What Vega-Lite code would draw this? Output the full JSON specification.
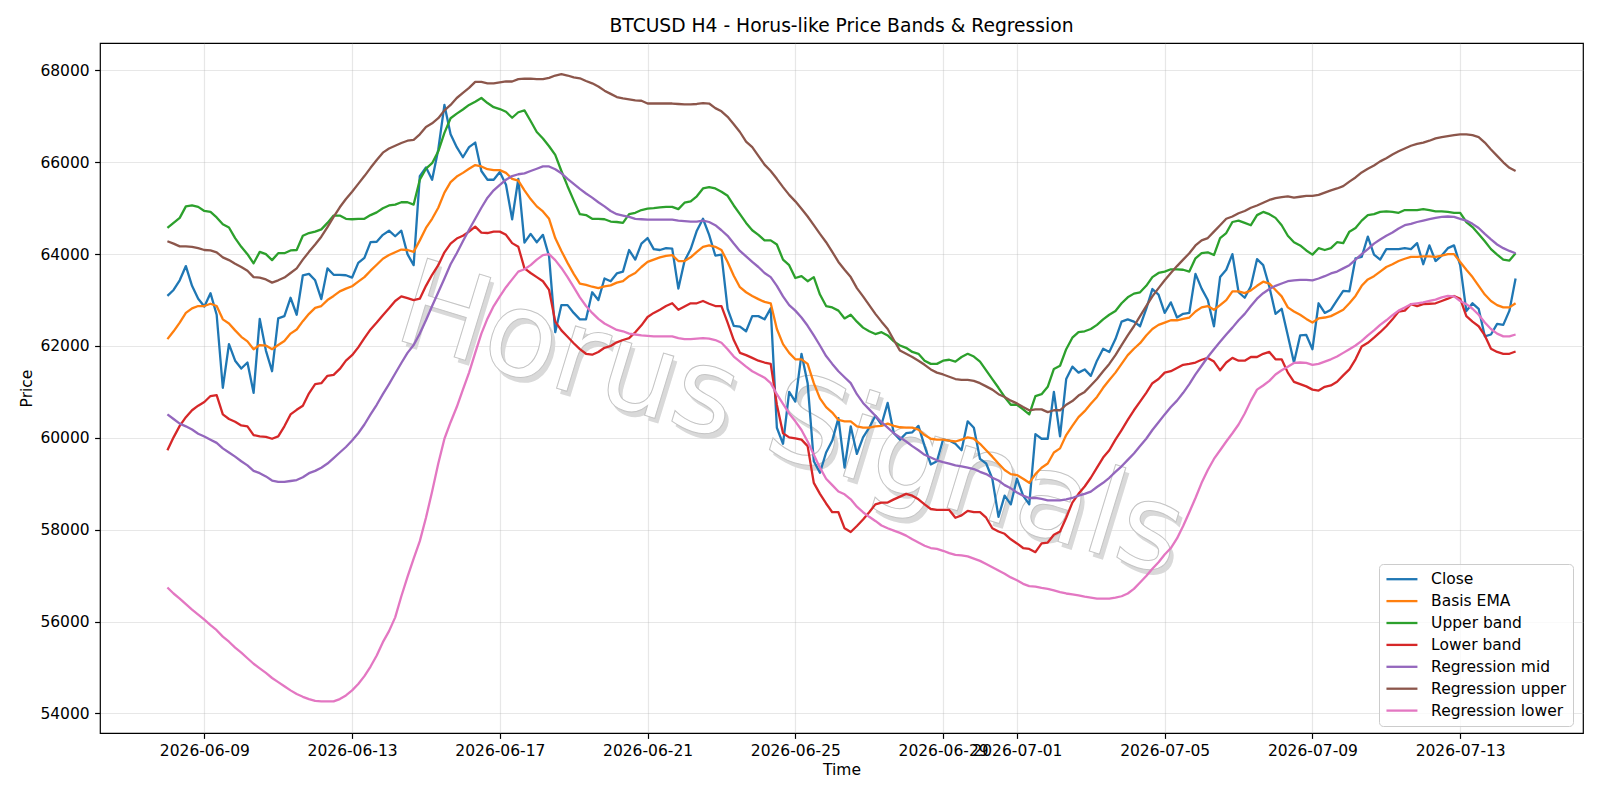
{
"$schema":"https://vega.github.io/schema/vega-lite/v6.json",
"width":1483,"height":690,
"autosize":{"type":"none"},
"padding":{"left":100,"top":43,"right":17,"bottom":67},
"background":"white",
"title":{"text":"BTCUSD H4 - Horus-like Price Bands & Regression","font":"DejaVu Sans","fontSize":18.7,"fontWeight":"normal","color":"black","anchor":"middle","baseline":"alphabetic","offset":-8},
"config":{
"font":"DejaVu Sans",
"view":{"stroke":"black","strokeWidth":1.2},
"axis":{"domain":false,"grid":true,"gridColor":"#b0b0b0","gridOpacity":0.3,"gridWidth":1.2,"tickColor":"black","tickWidth":1.2,"tickSize":5.4,"labelPadding":5.4,"labelFont":"DejaVu Sans","labelFontSize":15.5,"labelColor":"black","titleFont":"DejaVu Sans","titleFontSize":15.5,"titleFontWeight":"normal","titleColor":"black"}
},
"datasets":{"d":[
{"t":"2026-06-08T00:00","c":63090,"e":62150,"u":64570,"l":59730,"m":60510,"ru":64280,"rl":56740},
{"t":"2026-06-08T04:00","c":63220,"e":62320,"u":64680,"l":60010,"m":60410,"ru":64230,"rl":56610},
{"t":"2026-06-08T08:00","c":63430,"e":62510,"u":64790,"l":60260,"m":60310,"ru":64170,"rl":56500},
{"t":"2026-06-08T12:00","c":63740,"e":62720,"u":65040,"l":60450,"m":60250,"ru":64170,"rl":56380},
{"t":"2026-06-08T16:00","c":63310,"e":62820,"u":65060,"l":60600,"m":60180,"ru":64160,"rl":56260},
{"t":"2026-06-08T20:00","c":63030,"e":62870,"u":65030,"l":60700,"m":60090,"ru":64130,"rl":56150},
{"t":"2026-06-09T00:00","c":62860,"e":62870,"u":64940,"l":60780,"m":60030,"ru":64090,"rl":56040},
{"t":"2026-06-09T04:00","c":63150,"e":62920,"u":64920,"l":60910,"m":59960,"ru":64080,"rl":55920},
{"t":"2026-06-09T08:00","c":62680,"e":62870,"u":64800,"l":60930,"m":59890,"ru":64040,"rl":55810},
{"t":"2026-06-09T12:00","c":61090,"e":62580,"u":64650,"l":60510,"m":59770,"ru":63930,"rl":55670},
{"t":"2026-06-09T16:00","c":62040,"e":62490,"u":64580,"l":60410,"m":59680,"ru":63870,"rl":55560},
{"t":"2026-06-09T20:00","c":61680,"e":62340,"u":64350,"l":60350,"m":59590,"ru":63790,"rl":55430},
{"t":"2026-06-10T00:00","c":61510,"e":62200,"u":64160,"l":60270,"m":59490,"ru":63720,"rl":55320},
{"t":"2026-06-10T04:00","c":61640,"e":62100,"u":64000,"l":60250,"m":59400,"ru":63640,"rl":55200},
{"t":"2026-06-10T08:00","c":60980,"e":61930,"u":63800,"l":60060,"m":59280,"ru":63500,"rl":55080},
{"t":"2026-06-10T12:00","c":62590,"e":62020,"u":64050,"l":60030,"m":59230,"ru":63490,"rl":54980},
{"t":"2026-06-10T16:00","c":61900,"e":62010,"u":64000,"l":60020,"m":59160,"ru":63450,"rl":54880},
{"t":"2026-06-10T20:00","c":61450,"e":61930,"u":63870,"l":59980,"m":59070,"ru":63380,"rl":54770},
{"t":"2026-06-11T00:00","c":62600,"e":62020,"u":64020,"l":60030,"m":59040,"ru":63430,"rl":54680},
{"t":"2026-06-11T04:00","c":62650,"e":62110,"u":64020,"l":60250,"m":59040,"ru":63490,"rl":54590},
{"t":"2026-06-11T08:00","c":63050,"e":62270,"u":64080,"l":60510,"m":59060,"ru":63590,"rl":54500},
{"t":"2026-06-11T12:00","c":62680,"e":62360,"u":64090,"l":60610,"m":59080,"ru":63690,"rl":54420},
{"t":"2026-06-11T16:00","c":63540,"e":62540,"u":64400,"l":60700,"m":59140,"ru":63880,"rl":54360},
{"t":"2026-06-11T20:00","c":63570,"e":62700,"u":64460,"l":60970,"m":59230,"ru":64050,"rl":54310},
{"t":"2026-06-12T00:00","c":63430,"e":62830,"u":64490,"l":61170,"m":59280,"ru":64210,"rl":54270},
{"t":"2026-06-12T04:00","c":63020,"e":62870,"u":64540,"l":61190,"m":59350,"ru":64380,"rl":54260},
{"t":"2026-06-12T08:00","c":63690,"e":63000,"u":64680,"l":61350,"m":59440,"ru":64590,"rl":54260},
{"t":"2026-06-12T12:00","c":63550,"e":63090,"u":64840,"l":61370,"m":59560,"ru":64810,"rl":54260},
{"t":"2026-06-12T16:00","c":63550,"e":63190,"u":64840,"l":61500,"m":59680,"ru":65020,"rl":54310},
{"t":"2026-06-12T20:00","c":63540,"e":63250,"u":64770,"l":61680,"m":59800,"ru":65200,"rl":54390},
{"t":"2026-06-13T00:00","c":63490,"e":63300,"u":64760,"l":61800,"m":59940,"ru":65360,"rl":54500},
{"t":"2026-06-13T04:00","c":63810,"e":63400,"u":64770,"l":61970,"m":60100,"ru":65530,"rl":54640},
{"t":"2026-06-13T08:00","c":63920,"e":63500,"u":64770,"l":62170,"m":60290,"ru":65700,"rl":54810},
{"t":"2026-06-13T12:00","c":64260,"e":63640,"u":64850,"l":62360,"m":60510,"ru":65880,"rl":55020},
{"t":"2026-06-13T16:00","c":64270,"e":63770,"u":64910,"l":62510,"m":60720,"ru":66050,"rl":55260},
{"t":"2026-06-13T20:00","c":64420,"e":63900,"u":65000,"l":62670,"m":60950,"ru":66210,"rl":55550},
{"t":"2026-06-14T00:00","c":64510,"e":63980,"u":65060,"l":62820,"m":61170,"ru":66300,"rl":55790},
{"t":"2026-06-14T04:00","c":64390,"e":64040,"u":65080,"l":62980,"m":61400,"ru":66360,"rl":56090},
{"t":"2026-06-14T08:00","c":64510,"e":64100,"u":65130,"l":63080,"m":61630,"ru":66420,"rl":56550},
{"t":"2026-06-14T12:00","c":64000,"e":64090,"u":65130,"l":63040,"m":61850,"ru":66470,"rl":56970},
{"t":"2026-06-14T16:00","c":63760,"e":64050,"u":65080,"l":63000,"m":62020,"ru":66490,"rl":57370},
{"t":"2026-06-14T20:00","c":65700,"e":64300,"u":65620,"l":63030,"m":62270,"ru":66610,"rl":57750},
{"t":"2026-06-15T00:00","c":65890,"e":64570,"u":65860,"l":63310,"m":62560,"ru":66770,"rl":58260},
{"t":"2026-06-15T04:00","c":65620,"e":64770,"u":65980,"l":63550,"m":62870,"ru":66850,"rl":58830},
{"t":"2026-06-15T08:00","c":66280,"e":65010,"u":66240,"l":63760,"m":63170,"ru":66960,"rl":59440},
{"t":"2026-06-15T12:00","c":67250,"e":65340,"u":66640,"l":64040,"m":63470,"ru":67130,"rl":59980},
{"t":"2026-06-15T16:00","c":66610,"e":65570,"u":66960,"l":64230,"m":63780,"ru":67250,"rl":60340},
{"t":"2026-06-15T20:00","c":66330,"e":65690,"u":67060,"l":64340,"m":64020,"ru":67400,"rl":60670},
{"t":"2026-06-16T00:00","c":66110,"e":65770,"u":67150,"l":64400,"m":64280,"ru":67510,"rl":61050},
{"t":"2026-06-16T04:00","c":66330,"e":65860,"u":67250,"l":64490,"m":64530,"ru":67620,"rl":61420},
{"t":"2026-06-16T08:00","c":66430,"e":65940,"u":67320,"l":64600,"m":64770,"ru":67750,"rl":61850},
{"t":"2026-06-16T12:00","c":65810,"e":65910,"u":67400,"l":64470,"m":65010,"ru":67750,"rl":62270},
{"t":"2026-06-16T16:00","c":65620,"e":65850,"u":67290,"l":64460,"m":65230,"ru":67720,"rl":62600},
{"t":"2026-06-16T20:00","c":65620,"e":65830,"u":67200,"l":64490,"m":65390,"ru":67720,"rl":62870},
{"t":"2026-06-17T00:00","c":65790,"e":65830,"u":67160,"l":64490,"m":65510,"ru":67740,"rl":63080},
{"t":"2026-06-17T04:00","c":65510,"e":65770,"u":67100,"l":64420,"m":65620,"ru":67760,"rl":63280},
{"t":"2026-06-17T08:00","c":64760,"e":65640,"u":66970,"l":64240,"m":65700,"ru":67760,"rl":63450},
{"t":"2026-06-17T12:00","c":65640,"e":65600,"u":67090,"l":64160,"m":65740,"ru":67810,"rl":63620},
{"t":"2026-06-17T16:00","c":64250,"e":65390,"u":67130,"l":63690,"m":65760,"ru":67820,"rl":63670},
{"t":"2026-06-17T20:00","c":64440,"e":65200,"u":66900,"l":63590,"m":65810,"ru":67820,"rl":63760},
{"t":"2026-06-18T00:00","c":64260,"e":65040,"u":66660,"l":63500,"m":65860,"ru":67810,"rl":63880},
{"t":"2026-06-18T04:00","c":64420,"e":64930,"u":66520,"l":63410,"m":65910,"ru":67810,"rl":63980},
{"t":"2026-06-18T08:00","c":63950,"e":64770,"u":66350,"l":63220,"m":65910,"ru":67840,"rl":64000},
{"t":"2026-06-18T12:00","c":62300,"e":64350,"u":66160,"l":62530,"m":65850,"ru":67890,"rl":63870},
{"t":"2026-06-18T16:00","c":62890,"e":64070,"u":65810,"l":62340,"m":65760,"ru":67920,"rl":63700},
{"t":"2026-06-18T20:00","c":62890,"e":63810,"u":65480,"l":62200,"m":65640,"ru":67890,"rl":63500},
{"t":"2026-06-19T00:00","c":62720,"e":63570,"u":65170,"l":62060,"m":65530,"ru":67850,"rl":63280},
{"t":"2026-06-19T04:00","c":62580,"e":63360,"u":64870,"l":61930,"m":65420,"ru":67830,"rl":63060},
{"t":"2026-06-19T08:00","c":62580,"e":63330,"u":64850,"l":61830,"m":65320,"ru":67770,"rl":62870},
{"t":"2026-06-19T12:00","c":63170,"e":63290,"u":64770,"l":61810,"m":65230,"ru":67720,"rl":62720},
{"t":"2026-06-19T16:00","c":63000,"e":63260,"u":64770,"l":61870,"m":65130,"ru":67650,"rl":62590},
{"t":"2026-06-19T20:00","c":63470,"e":63300,"u":64760,"l":61960,"m":65040,"ru":67560,"rl":62490},
{"t":"2026-06-20T00:00","c":63410,"e":63320,"u":64710,"l":62000,"m":64940,"ru":67490,"rl":62420},
{"t":"2026-06-20T04:00","c":63580,"e":63380,"u":64700,"l":62080,"m":64870,"ru":67420,"rl":62350},
{"t":"2026-06-20T08:00","c":63620,"e":63410,"u":64680,"l":62130,"m":64840,"ru":67390,"rl":62320},
{"t":"2026-06-20T12:00","c":64090,"e":63520,"u":64870,"l":62170,"m":64810,"ru":67370,"rl":62270},
{"t":"2026-06-20T16:00","c":63880,"e":63590,"u":64900,"l":62300,"m":64770,"ru":67350,"rl":62250},
{"t":"2026-06-20T20:00","c":64230,"e":63720,"u":64960,"l":62450,"m":64760,"ru":67340,"rl":62230},
{"t":"2026-06-21T00:00","c":64350,"e":63830,"u":64990,"l":62630,"m":64750,"ru":67280,"rl":62220},
{"t":"2026-06-21T04:00","c":64110,"e":63880,"u":65000,"l":62720,"m":64750,"ru":67280,"rl":62210},
{"t":"2026-06-21T08:00","c":64090,"e":63930,"u":65020,"l":62790,"m":64750,"ru":67280,"rl":62210},
{"t":"2026-06-21T12:00","c":64130,"e":63960,"u":65030,"l":62870,"m":64750,"ru":67280,"rl":62210},
{"t":"2026-06-21T16:00","c":64120,"e":63980,"u":65030,"l":62930,"m":64750,"ru":67280,"rl":62210},
{"t":"2026-06-21T20:00","c":63250,"e":63850,"u":64980,"l":62790,"m":64730,"ru":67270,"rl":62170},
{"t":"2026-06-22T00:00","c":63850,"e":63850,"u":65120,"l":62860,"m":64720,"ru":67260,"rl":62150},
{"t":"2026-06-22T04:00","c":64110,"e":63930,"u":65150,"l":62930,"m":64710,"ru":67260,"rl":62150},
{"t":"2026-06-22T08:00","c":64510,"e":64050,"u":65260,"l":62930,"m":64710,"ru":67270,"rl":62160},
{"t":"2026-06-22T12:00","c":64770,"e":64160,"u":65430,"l":62980,"m":64730,"ru":67290,"rl":62170},
{"t":"2026-06-22T16:00","c":64420,"e":64190,"u":65460,"l":62920,"m":64700,"ru":67280,"rl":62160},
{"t":"2026-06-22T20:00","c":63970,"e":64160,"u":65430,"l":62870,"m":64630,"ru":67180,"rl":62130},
{"t":"2026-06-23T00:00","c":63990,"e":64090,"u":65360,"l":62870,"m":64520,"ru":67110,"rl":62070},
{"t":"2026-06-23T04:00","c":62810,"e":63830,"u":65270,"l":62510,"m":64400,"ru":66990,"rl":61930},
{"t":"2026-06-23T08:00","c":62440,"e":63530,"u":65060,"l":62130,"m":64230,"ru":66830,"rl":61770},
{"t":"2026-06-23T12:00","c":62420,"e":63280,"u":64870,"l":61850,"m":64070,"ru":66660,"rl":61660},
{"t":"2026-06-23T16:00","c":62320,"e":63170,"u":64680,"l":61800,"m":63950,"ru":66450,"rl":61550},
{"t":"2026-06-23T20:00","c":62650,"e":63090,"u":64520,"l":61740,"m":63830,"ru":66330,"rl":61450},
{"t":"2026-06-24T00:00","c":62650,"e":63020,"u":64420,"l":61680,"m":63720,"ru":66140,"rl":61380},
{"t":"2026-06-24T04:00","c":62580,"e":62960,"u":64300,"l":61640,"m":63590,"ru":65950,"rl":61310},
{"t":"2026-06-24T08:00","c":62820,"e":62930,"u":64300,"l":61610,"m":63500,"ru":65810,"rl":61190},
{"t":"2026-06-24T12:00","c":60220,"e":62370,"u":64210,"l":60720,"m":63310,"ru":65640,"rl":60950},
{"t":"2026-06-24T16:00","c":59870,"e":62040,"u":63880,"l":60100,"m":63080,"ru":65460,"rl":60740},
{"t":"2026-06-24T20:00","c":61000,"e":61850,"u":63760,"l":60010,"m":62890,"ru":65290,"rl":60530},
{"t":"2026-06-25T00:00","c":60790,"e":61710,"u":63480,"l":59990,"m":62770,"ru":65150,"rl":60360},
{"t":"2026-06-25T04:00","c":61830,"e":61710,"u":63520,"l":59960,"m":62620,"ru":64990,"rl":60170},
{"t":"2026-06-25T08:00","c":61190,"e":61610,"u":63410,"l":59820,"m":62440,"ru":64820,"rl":59920},
{"t":"2026-06-25T12:00","c":59490,"e":61190,"u":63500,"l":59020,"m":62230,"ru":64630,"rl":59630},
{"t":"2026-06-25T16:00","c":59240,"e":60860,"u":63120,"l":58780,"m":62010,"ru":64440,"rl":59350},
{"t":"2026-06-25T20:00","c":59680,"e":60670,"u":62870,"l":58570,"m":61780,"ru":64260,"rl":59110},
{"t":"2026-06-26T00:00","c":59940,"e":60550,"u":62840,"l":58380,"m":61610,"ru":64050,"rl":58970},
{"t":"2026-06-26T04:00","c":60430,"e":60390,"u":62770,"l":58380,"m":61450,"ru":63830,"rl":58830},
{"t":"2026-06-26T08:00","c":59350,"e":60360,"u":62600,"l":58030,"m":61320,"ru":63660,"rl":58770},
{"t":"2026-06-26T12:00","c":60250,"e":60360,"u":62680,"l":57950,"m":61190,"ru":63500,"rl":58660},
{"t":"2026-06-26T16:00","c":59650,"e":60250,"u":62530,"l":58080,"m":60950,"ru":63260,"rl":58500},
{"t":"2026-06-26T20:00","c":60010,"e":60220,"u":62400,"l":58220,"m":60760,"ru":63080,"rl":58380},
{"t":"2026-06-27T00:00","c":60220,"e":60220,"u":62320,"l":58380,"m":60620,"ru":62890,"rl":58280},
{"t":"2026-06-27T04:00","c":60480,"e":60250,"u":62260,"l":58550,"m":60480,"ru":62700,"rl":58190},
{"t":"2026-06-27T08:00","c":60290,"e":60260,"u":62300,"l":58590,"m":60340,"ru":62530,"rl":58090},
{"t":"2026-06-27T12:00","c":60760,"e":60310,"u":62230,"l":58590,"m":60220,"ru":62370,"rl":58030},
{"t":"2026-06-27T16:00","c":60100,"e":60260,"u":62100,"l":58660,"m":60100,"ru":62130,"rl":57980},
{"t":"2026-06-27T20:00","c":59960,"e":60230,"u":62010,"l":58720,"m":60010,"ru":61900,"rl":57930},
{"t":"2026-06-28T00:00","c":60100,"e":60220,"u":61960,"l":58780,"m":59920,"ru":61830,"rl":57870},
{"t":"2026-06-28T04:00","c":60120,"e":60220,"u":61870,"l":58740,"m":59820,"ru":61760,"rl":57790},
{"t":"2026-06-28T08:00","c":60260,"e":60180,"u":61830,"l":58660,"m":59730,"ru":61680,"rl":57720},
{"t":"2026-06-28T12:00","c":59820,"e":60060,"u":61680,"l":58550,"m":59630,"ru":61590,"rl":57650},
{"t":"2026-06-28T16:00","c":59420,"e":59980,"u":61610,"l":58450,"m":59570,"ru":61490,"rl":57600},
{"t":"2026-06-28T20:00","c":59490,"e":59960,"u":61610,"l":58430,"m":59510,"ru":61420,"rl":57580},
{"t":"2026-06-29T00:00","c":59960,"e":59960,"u":61680,"l":58430,"m":59470,"ru":61380,"rl":57540},
{"t":"2026-06-29T04:00","c":59940,"e":59940,"u":61700,"l":58430,"m":59440,"ru":61330,"rl":57490},
{"t":"2026-06-29T08:00","c":59870,"e":59920,"u":61660,"l":58260,"m":59400,"ru":61280,"rl":57450},
{"t":"2026-06-29T12:00","c":59730,"e":59960,"u":61760,"l":58310,"m":59380,"ru":61260,"rl":57440},
{"t":"2026-06-29T16:00","c":60360,"e":60010,"u":61830,"l":58410,"m":59350,"ru":61260,"rl":57420},
{"t":"2026-06-29T20:00","c":60220,"e":59980,"u":61770,"l":58380,"m":59320,"ru":61240,"rl":57370},
{"t":"2026-06-30T00:00","c":59540,"e":59870,"u":61660,"l":58380,"m":59260,"ru":61190,"rl":57320},
{"t":"2026-06-30T04:00","c":59440,"e":59730,"u":61470,"l":58260,"m":59210,"ru":61120,"rl":57250},
{"t":"2026-06-30T08:00","c":59110,"e":59590,"u":61280,"l":58030,"m":59130,"ru":61050,"rl":57180},
{"t":"2026-06-30T12:00","c":58280,"e":59440,"u":61090,"l":57960,"m":59070,"ru":60950,"rl":57110},
{"t":"2026-06-30T16:00","c":58740,"e":59300,"u":60890,"l":57910,"m":58970,"ru":60890,"rl":57040},
{"t":"2026-06-30T20:00","c":58550,"e":59210,"u":60720,"l":57790,"m":58900,"ru":60810,"rl":56960},
{"t":"2026-07-01T00:00","c":59110,"e":59190,"u":60720,"l":57700,"m":58810,"ru":60750,"rl":56900},
{"t":"2026-07-01T04:00","c":58740,"e":59110,"u":60620,"l":57600,"m":58740,"ru":60670,"rl":56820},
{"t":"2026-07-01T08:00","c":58550,"e":59020,"u":60510,"l":57580,"m":58690,"ru":60600,"rl":56770},
{"t":"2026-07-01T12:00","c":60080,"e":59210,"u":60910,"l":57510,"m":58690,"ru":60620,"rl":56760},
{"t":"2026-07-01T16:00","c":59980,"e":59350,"u":60950,"l":57700,"m":58670,"ru":60620,"rl":56730},
{"t":"2026-07-01T20:00","c":59980,"e":59440,"u":61110,"l":57720,"m":58640,"ru":60560,"rl":56710},
{"t":"2026-07-02T00:00","c":61000,"e":59680,"u":61500,"l":57890,"m":58640,"ru":60600,"rl":56680},
{"t":"2026-07-02T04:00","c":60030,"e":59770,"u":61570,"l":57960,"m":58640,"ru":60600,"rl":56640},
{"t":"2026-07-02T08:00","c":61280,"e":60060,"u":61930,"l":58260,"m":58660,"ru":60720,"rl":56610},
{"t":"2026-07-02T12:00","c":61550,"e":60260,"u":62180,"l":58590,"m":58690,"ru":60800,"rl":56590},
{"t":"2026-07-02T16:00","c":61420,"e":60450,"u":62300,"l":58780,"m":58740,"ru":60920,"rl":56570},
{"t":"2026-07-02T20:00","c":61490,"e":60580,"u":62320,"l":58940,"m":58780,"ru":61000,"rl":56540},
{"t":"2026-07-03T00:00","c":61350,"e":60740,"u":62370,"l":59130,"m":58830,"ru":61140,"rl":56520},
{"t":"2026-07-03T04:00","c":61680,"e":60890,"u":62460,"l":59350,"m":58930,"ru":61280,"rl":56500},
{"t":"2026-07-03T08:00","c":61940,"e":61090,"u":62580,"l":59570,"m":59020,"ru":61450,"rl":56500},
{"t":"2026-07-03T12:00","c":61870,"e":61260,"u":62680,"l":59730,"m":59130,"ru":61610,"rl":56500},
{"t":"2026-07-03T16:00","c":62150,"e":61420,"u":62760,"l":59960,"m":59260,"ru":61800,"rl":56520},
{"t":"2026-07-03T20:00","c":62530,"e":61610,"u":62930,"l":60170,"m":59380,"ru":62020,"rl":56550},
{"t":"2026-07-04T00:00","c":62580,"e":61800,"u":63060,"l":60390,"m":59520,"ru":62230,"rl":56610},
{"t":"2026-07-04T04:00","c":62530,"e":61940,"u":63140,"l":60600,"m":59660,"ru":62430,"rl":56710},
{"t":"2026-07-04T08:00","c":62430,"e":62060,"u":63170,"l":60790,"m":59820,"ru":62650,"rl":56850},
{"t":"2026-07-04T12:00","c":62810,"e":62230,"u":63310,"l":60980,"m":59980,"ru":62870,"rl":56990},
{"t":"2026-07-04T16:00","c":63240,"e":62370,"u":63500,"l":61190,"m":60170,"ru":63080,"rl":57150},
{"t":"2026-07-04T20:00","c":63120,"e":62460,"u":63590,"l":61280,"m":60340,"ru":63260,"rl":57290},
{"t":"2026-07-05T00:00","c":62720,"e":62510,"u":63620,"l":61420,"m":60510,"ru":63430,"rl":57460},
{"t":"2026-07-05T04:00","c":62950,"e":62560,"u":63670,"l":61450,"m":60670,"ru":63590,"rl":57600},
{"t":"2026-07-05T08:00","c":62620,"e":62560,"u":63670,"l":61520,"m":60810,"ru":63740,"rl":57810},
{"t":"2026-07-05T12:00","c":62700,"e":62590,"u":63660,"l":61590,"m":60980,"ru":63880,"rl":58080},
{"t":"2026-07-05T16:00","c":62720,"e":62620,"u":63620,"l":61610,"m":61170,"ru":64020,"rl":58380},
{"t":"2026-07-05T20:00","c":63570,"e":62750,"u":63910,"l":61640,"m":61380,"ru":64190,"rl":58690},
{"t":"2026-07-06T00:00","c":63250,"e":62840,"u":64020,"l":61700,"m":61570,"ru":64300,"rl":59020},
{"t":"2026-07-06T04:00","c":63000,"e":62870,"u":64040,"l":61740,"m":61760,"ru":64350,"rl":59300},
{"t":"2026-07-06T08:00","c":62430,"e":62790,"u":63980,"l":61660,"m":61930,"ru":64490,"rl":59540},
{"t":"2026-07-06T12:00","c":63500,"e":62890,"u":64350,"l":61470,"m":62090,"ru":64630,"rl":59730},
{"t":"2026-07-06T16:00","c":63660,"e":63000,"u":64460,"l":61640,"m":62250,"ru":64770,"rl":59920},
{"t":"2026-07-06T20:00","c":64000,"e":63190,"u":64700,"l":61740,"m":62400,"ru":64820,"rl":60100},
{"t":"2026-07-07T00:00","c":63170,"e":63190,"u":64730,"l":61680,"m":62560,"ru":64890,"rl":60290},
{"t":"2026-07-07T04:00","c":63050,"e":63150,"u":64680,"l":61680,"m":62700,"ru":64940,"rl":60530},
{"t":"2026-07-07T08:00","c":63300,"e":63210,"u":64630,"l":61760,"m":62870,"ru":65010,"rl":60810},
{"t":"2026-07-07T12:00","c":63890,"e":63310,"u":64850,"l":61760,"m":63030,"ru":65060,"rl":61050},
{"t":"2026-07-07T16:00","c":63760,"e":63400,"u":64920,"l":61830,"m":63150,"ru":65120,"rl":61140},
{"t":"2026-07-07T20:00","c":63290,"e":63360,"u":64870,"l":61870,"m":63240,"ru":65180,"rl":61240},
{"t":"2026-07-08T00:00","c":62700,"e":63220,"u":64790,"l":61710,"m":63310,"ru":65220,"rl":61380},
{"t":"2026-07-08T04:00","c":62810,"e":63080,"u":64630,"l":61710,"m":63360,"ru":65240,"rl":61470},
{"t":"2026-07-08T08:00","c":62230,"e":62840,"u":64400,"l":61420,"m":63410,"ru":65260,"rl":61550},
{"t":"2026-07-08T12:00","c":61640,"e":62750,"u":64260,"l":61220,"m":63430,"ru":65230,"rl":61630},
{"t":"2026-07-08T16:00","c":62230,"e":62680,"u":64190,"l":61170,"m":63440,"ru":65250,"rl":61640},
{"t":"2026-07-08T20:00","c":62240,"e":62590,"u":64080,"l":61120,"m":63440,"ru":65270,"rl":61630},
{"t":"2026-07-09T00:00","c":61930,"e":62510,"u":63990,"l":61050,"m":63430,"ru":65270,"rl":61590},
{"t":"2026-07-09T04:00","c":62930,"e":62600,"u":64130,"l":61030,"m":63470,"ru":65290,"rl":61610},
{"t":"2026-07-09T08:00","c":62720,"e":62620,"u":64090,"l":61110,"m":63520,"ru":65340,"rl":61660},
{"t":"2026-07-09T12:00","c":62790,"e":62650,"u":64130,"l":61140,"m":63580,"ru":65390,"rl":61710},
{"t":"2026-07-09T16:00","c":63000,"e":62720,"u":64260,"l":61220,"m":63620,"ru":65430,"rl":61770},
{"t":"2026-07-09T20:00","c":63200,"e":62790,"u":64240,"l":61360,"m":63690,"ru":65480,"rl":61850},
{"t":"2026-07-10T00:00","c":63190,"e":62930,"u":64490,"l":61490,"m":63760,"ru":65580,"rl":61930},
{"t":"2026-07-10T04:00","c":63910,"e":63090,"u":64570,"l":61710,"m":63880,"ru":65670,"rl":62010},
{"t":"2026-07-10T08:00","c":63940,"e":63310,"u":64730,"l":61990,"m":64000,"ru":65780,"rl":62110},
{"t":"2026-07-10T12:00","c":64380,"e":63450,"u":64850,"l":62070,"m":64110,"ru":65860,"rl":62230},
{"t":"2026-07-10T16:00","c":63990,"e":63520,"u":64870,"l":62180,"m":64230,"ru":65930,"rl":62340},
{"t":"2026-07-10T20:00","c":63880,"e":63620,"u":64920,"l":62300,"m":64320,"ru":66020,"rl":62460},
{"t":"2026-07-11T00:00","c":64110,"e":63720,"u":64930,"l":62430,"m":64400,"ru":66090,"rl":62560},
{"t":"2026-07-11T04:00","c":64110,"e":63780,"u":64920,"l":62580,"m":64470,"ru":66170,"rl":62670},
{"t":"2026-07-11T08:00","c":64110,"e":63850,"u":64900,"l":62750,"m":64560,"ru":66240,"rl":62770},
{"t":"2026-07-11T12:00","c":64130,"e":63900,"u":64960,"l":62770,"m":64630,"ru":66300,"rl":62840},
{"t":"2026-07-11T16:00","c":64110,"e":63940,"u":64960,"l":62910,"m":64660,"ru":66360,"rl":62910},
{"t":"2026-07-11T20:00","c":64240,"e":63940,"u":64960,"l":62870,"m":64700,"ru":66400,"rl":62930},
{"t":"2026-07-12T00:00","c":63780,"e":63950,"u":64980,"l":62910,"m":64730,"ru":66430,"rl":62950},
{"t":"2026-07-12T04:00","c":64190,"e":63950,"u":64960,"l":62920,"m":64760,"ru":66470,"rl":62980},
{"t":"2026-07-12T08:00","c":63850,"e":63940,"u":64930,"l":62930,"m":64790,"ru":66520,"rl":63010},
{"t":"2026-07-12T12:00","c":63970,"e":63970,"u":64930,"l":62980,"m":64810,"ru":66550,"rl":63060},
{"t":"2026-07-12T16:00","c":64130,"e":64000,"u":64920,"l":63030,"m":64820,"ru":66570,"rl":63090},
{"t":"2026-07-12T20:00","c":64190,"e":64000,"u":64900,"l":63090,"m":64810,"ru":66590,"rl":63080},
{"t":"2026-07-13T00:00","c":63760,"e":63830,"u":64900,"l":63030,"m":64770,"ru":66610,"rl":62980},
{"t":"2026-07-13T04:00","c":62760,"e":63660,"u":64700,"l":62650,"m":64730,"ru":66610,"rl":62910},
{"t":"2026-07-13T08:00","c":62930,"e":63500,"u":64590,"l":62530,"m":64660,"ru":66590,"rl":62810},
{"t":"2026-07-13T12:00","c":62810,"e":63310,"u":64440,"l":62430,"m":64570,"ru":66550,"rl":62680},
{"t":"2026-07-13T16:00","c":62210,"e":63120,"u":64280,"l":62230,"m":64440,"ru":66430,"rl":62510},
{"t":"2026-07-13T20:00","c":62250,"e":62980,"u":64110,"l":61940,"m":64320,"ru":66280,"rl":62370},
{"t":"2026-07-14T00:00","c":62480,"e":62890,"u":63990,"l":61870,"m":64210,"ru":66140,"rl":62270},
{"t":"2026-07-14T04:00","c":62460,"e":62840,"u":63880,"l":61830,"m":64130,"ru":66000,"rl":62210},
{"t":"2026-07-14T08:00","c":62770,"e":62840,"u":63860,"l":61830,"m":64070,"ru":65880,"rl":62210},
{"t":"2026-07-14T12:00","c":63470,"e":62930,"u":64020,"l":61880,"m":64020,"ru":65810,"rl":62250}
]},
"layer":[
{"data":{"values":[{}]},
 "mark":{"type":"text","text":"Horus Signals","font":"DejaVu Sans","fontSize":119,"angle":17,"align":"center","baseline":"middle","fill":"#d9d9d9","dx":5,"dy":4},
 "encoding":{"x":{"datum":{"year":2026,"month":6,"date":24,"hours":21,"minutes":0},"type":"temporal"},"y":{"datum":60340,"type":"quantitative"}}},
{"data":{"values":[{}]},
 "mark":{"type":"text","text":"Horus Signals","font":"DejaVu Sans","fontSize":119,"angle":17,"align":"center","baseline":"middle","fill":"white","stroke":"#c4c4c4","strokeWidth":1},
 "encoding":{"x":{"datum":{"year":2026,"month":6,"date":24,"hours":21,"minutes":0},"type":"temporal"},"y":{"datum":60340,"type":"quantitative"}}},
{"data":{"name":"d"},
 "transform":[{"fold":["c","e","u","l","m","ru","rl"],"as":["s","v"]}],
 "mark":{"type":"line","strokeWidth":2.3,"strokeJoin":"round"},
 "encoding":{
  "x":{"field":"t","type":"temporal","scale":{"domain":[{"year":2026,"month":6,"date":6,"hours":4,"minutes":12},{"year":2026,"month":7,"date":16,"hours":7,"minutes":48}],"nice":false},
   "axis":{"title":"Time","titlePadding":3,"format":"%Y-%m-%d","labelOverlap":false,"labelFlush":false,
    "values":[{"year":2026,"month":6,"date":9},{"year":2026,"month":6,"date":13},{"year":2026,"month":6,"date":17},{"year":2026,"month":6,"date":21},{"year":2026,"month":6,"date":25},{"year":2026,"month":6,"date":29},{"year":2026,"month":7,"date":1},{"year":2026,"month":7,"date":5},{"year":2026,"month":7,"date":9},{"year":2026,"month":7,"date":13}]}},
  "y":{"field":"v","type":"quantitative","scale":{"domain":[53572,68598],"nice":false,"zero":false},
   "axis":{"title":"Price","titlePadding":5,"format":"d","values":[54000,56000,58000,60000,62000,64000,66000,68000]}},
  "color":{"field":"s","type":"nominal",
   "scale":{"domain":["c","e","u","l","m","ru","rl"],"range":["#1f77b4","#ff7f0e","#2ca02c","#d62728","#9467bd","#8c564b","#e377c2"]},
   "legend":{"orient":"none","legendX":1279,"legendY":521,"title":null,"symbolType":"M-1,0H3","symbolSize":240,"symbolStrokeWidth":2.3,
    "labelFont":"DejaVu Sans","labelFontSize":15.5,"labelColor":"black","labelOffset":27.9,"rowPadding":3.9,"padding":6.2,"labelLimit":300,
    "fillColor":"rgba(255,255,255,0.8)","strokeColor":"#cccccc","cornerRadius":4,
    "labelExpr":"datum.label == 'c' ? 'Close' : datum.label == 'e' ? 'Basis EMA' : datum.label == 'u' ? 'Upper band' : datum.label == 'l' ? 'Lower band' : datum.label == 'm' ? 'Regression mid' : datum.label == 'ru' ? 'Regression upper' : 'Regression lower'"}}
 }}
]
}
